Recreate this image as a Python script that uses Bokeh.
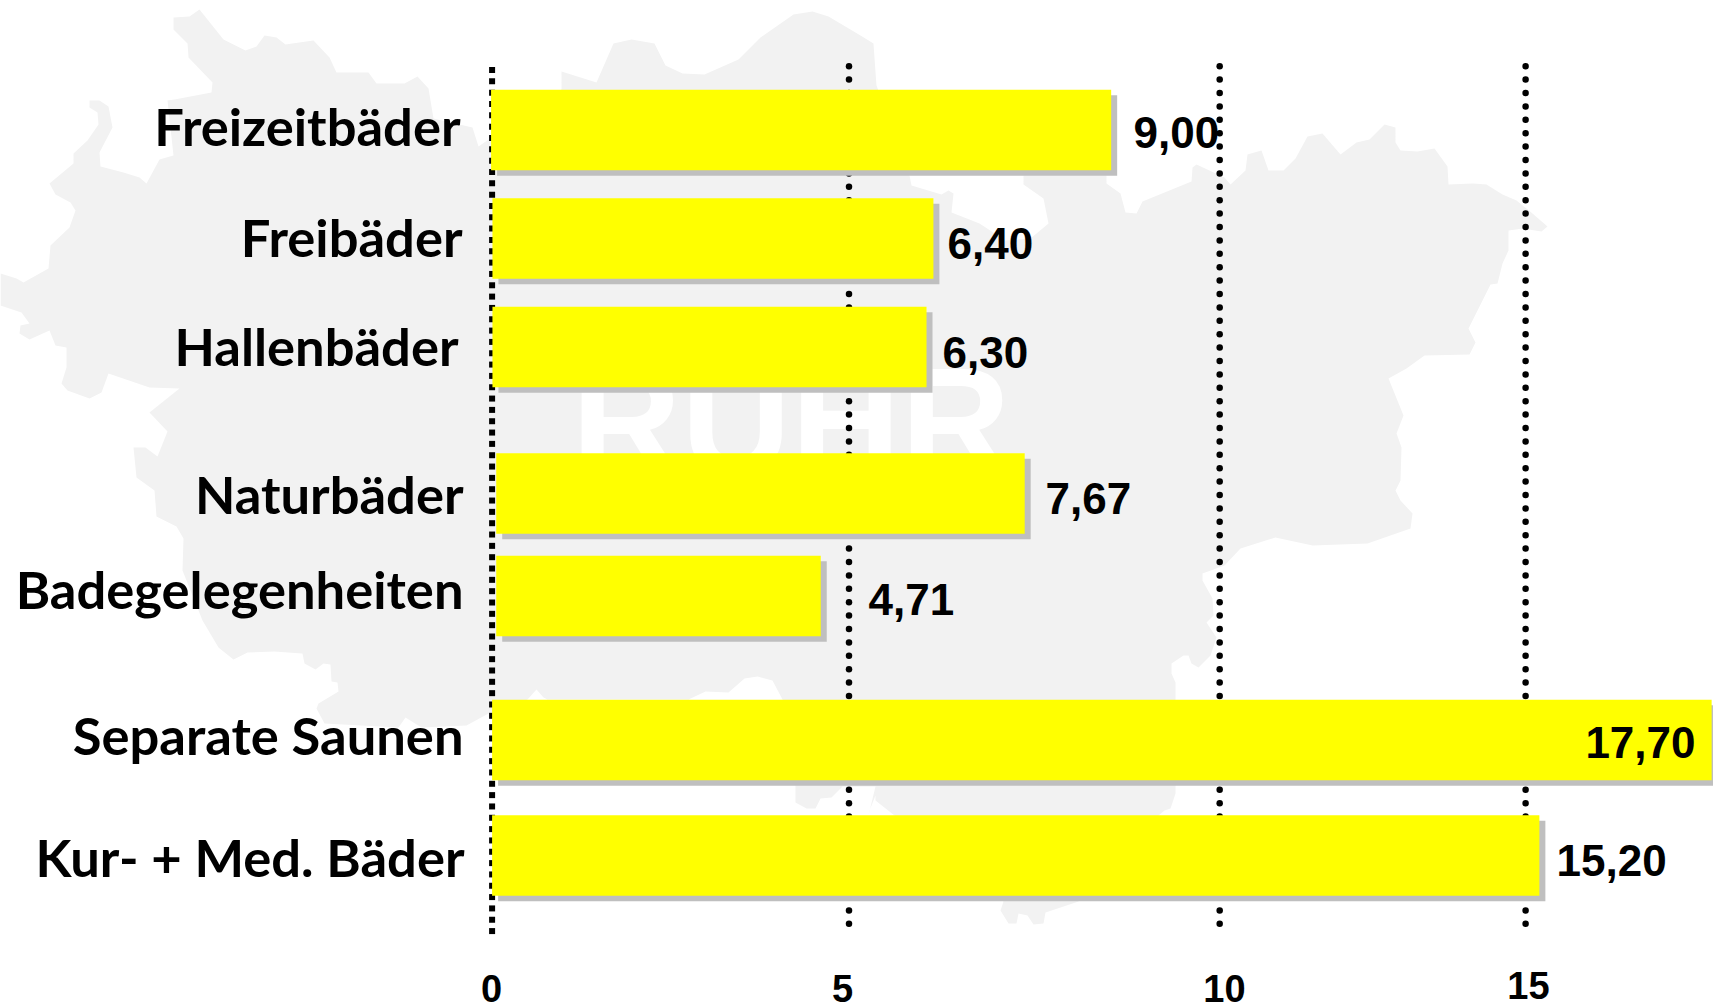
import numpy as np
from bokeh.embed import file_html
from bokeh.resources import INLINE
from bokeh.plotting import figure
from bokeh.models import Range1d
from bokeh.core.properties import value

# ---- data ----
categories = ["Freizeitbäder", "Freibäder", "Hallenbäder", "Naturbäder",
              "Badegelegenheiten", "Separate Saunen", "Kur- + Med. Bäder"]
values = [9.00, 6.40, 6.30, 7.67, 4.71, 17.70, 15.20]
value_labels = ["9,00", "6,40", "6,30", "7,67", "4,71", "17,70", "15,20"]
tick_labels = ["0", "5", "10", "15"]

# ---- hand placement of the slide (the original is a slide with free-standing boxes) ----
grid_pos = [0.0, 5.18, 10.56, 15.0]           # gridlines, in data units
tick_label_px = [491, 842, 1224, 1528]
tick_base_px = [1001, 1001, 1001, 998]
bar_shift = [-0.015, 0.005, 0.005, 0.06, 0.06, 0.0, 0.0]
row_center = [129.5, 238, 346.5, 493, 595.5, 739.5, 855]
row_height = 80.5
cat_right = [460, 462, 458, 463, 463, 463, 464]
cat_base = [145, 256, 365, 513, 608, 754, 876]
val_x = [1133, 947, 942, 1045, 868, 1695, 1556]
val_align = ["left", "left", "left", "left", "left", "right", "left"]
val_base = [147, 258, 367, 513, 614, 757, 875]

map_x = [173,189,199,223,245,256,264,276,285,313,329,336,368,376,404,417,428,433,472,478,561,561,596,613,631,654,665,682,704,738,760,793,812,828,860,873,876,
         909,911,941,948,953,951,979,1005,1030,1048,1043,1023,1023,1106,1106,1120,1125,1136,1142,1191,1192,1196,1224,1230,1245,1247,1261,1268,1283,1295,1307,1322,1340,1356,1369,1384,1395,1395,1400,1417,1434,1447,1448,1472,1486,1502,1516,1532,1547,1541,1522,1508,1508,1502,1497,1490,1468,1475,1469,1424,1406,1388,1403,1396,1401,1400,1395,1400,1412,1410,1367,1312,1275,1240,1224,1202,1202,1212,1213,1206,1216,1210,1198,1191,1188,1183,1171,1171,1175,1175,1175,1170,1164,1158,1078,1045,1043,1033,1027,1018,1016,1008,1000,1003,875,875,869,868,875,842,
         831,820,815,806,795,795,782,772,757,744,728,705,688,547,543,536,527,488,466,421,405,398,324,316,318,338,337,331,330,323,315,304,302,274,247,233,218,202,182,183,176,156,154,136,133,145,157,167,149,179,149,108,101,89,67,61,66,66,55,49,29,19,20,29,21,0,0,16,23,48,50,69,75,70,55,49,73,73,87,98,97,89,89,99,108,112,99,100,123,139,146,159,173,167,174,211,212,188,187,173]
map_y = [17,16,9,39,50,46,35,37,44,40,57,72,72,83,83,76,88,118,127,146,89,71,82,43,39,43,65,73,74,59,37,14,11,16,35,43,85,
         175,185,194,190,193,212,223,240,238,223,198,184,175,175,183,193,212,213,201,181,167,164,177,184,170,154,150,170,170,158,136,133,154,142,139,124,127,142,150,151,148,166,184,183,184,194,200,213,226,231,228,230,250,263,283,284,328,342,354,355,368,378,415,433,447,480,490,500,513,528,543,545,537,548,565,573,580,598,615,622,637,655,667,663,655,655,663,673,682,699,793,808,810,815,901,912,923,924,915,913,923,923,910,901,800,795,810,815,786,786,
         797,798,808,808,802,786,699,680,676,678,692,691,699,699,697,689,699,713,725,727,717,727,723,708,703,691,682,681,664,663,669,663,653,651,652,659,647,620,570,538,526,516,490,477,447,447,456,431,412,388,387,373,392,398,390,383,367,347,345,330,339,333,325,323,312,305,273,278,282,268,245,227,210,202,194,183,163,153,140,124,112,107,100,100,106,127,152,166,172,177,183,159,155,100,99,92,82,57,43,29]

# ---- figure: the page photograph has the plot at its corner; extra range addresses the slide's pixels ----
X0, PXU = 491.6, 68.9
W, H = 1713, 1004
p = figure(width=W, height=H, output_backend="svg", toolbar_location=None,
           x_range=Range1d(-X0 / PXU, (W - X0) / PXU),
           y_range=Range1d(H, 0),
           x_axis_location=None, y_axis_location=None, min_border=0)
p.extra_x_ranges = {"px": Range1d(0, W)}
p.xgrid.visible = False
p.ygrid.visible = False
p.outline_line_color = None
p.background_fill_color = "white"

# background map + title
p.patch(map_x, map_y, x_range_name="px", fill_color="#f2f2f2", line_color=None)
p.text([571], [475], text=["RUHR"], x_range_name="px", text_color="white", y_offset=-55,
       text_font=value("Liberation Sans"), text_font_style="bold",
       text_font_size="152px", text_align="left", text_baseline="alphabetic")

# gridlines: the dash rhythm of the slide is not an integer, so the dots are placed one by one
sq_y = np.arange(69.5, 931, 11.33)
p.scatter([grid_pos[0]] * len(sq_y), sq_y, marker="square", size=6, fill_color="black", line_color=None)
dot_y = np.arange(65.7, 928, 13.4)
for g in grid_pos[1:]:
    p.scatter([g] * len(dot_y), dot_y, marker="circle", size=6.5, fill_color="black", line_color=None)

# bars
left = bar_shift
right = [v + s for v, s in zip(values, bar_shift)]
SH = 6 / PXU
p.hbar(y=[c + 5.5 for c in row_center], left=[l + SH for l in left], right=[r + SH for r in right],
       height=row_height, fill_color="#bfbfbf", line_color=None)
p.hbar(y=row_center, left=left, right=right, height=row_height, fill_color="#ffff00", line_color=None)

# labels (y_offset compensates where the svg backend puts the alphabetic baseline)
p.text(cat_right, cat_base, text=categories, x_range_name="px", text_color="black", y_offset=-20,
       text_font=value("Lato"), text_font_style="bold", text_font_size="52.5px",
       text_align="right", text_baseline="alphabetic")
for x, y, t, a in zip(val_x, val_base, value_labels, val_align):
    p.text([x], [y], text=[t], x_range_name="px", text_color="black", y_offset=-15,
           text_font=value("Liberation Sans"), text_font_style="bold", text_font_size="44px",
           text_align=a, text_baseline="alphabetic")
p.text(tick_label_px, tick_base_px, text=tick_labels, x_range_name="px", text_color="black", y_offset=-13,
       text_font=value("Liberation Sans"), text_font_style="bold", text_font_size="38px",
       text_align="center", text_baseline="alphabetic")

open("out.html", "w").write(file_html(p, INLINE))
